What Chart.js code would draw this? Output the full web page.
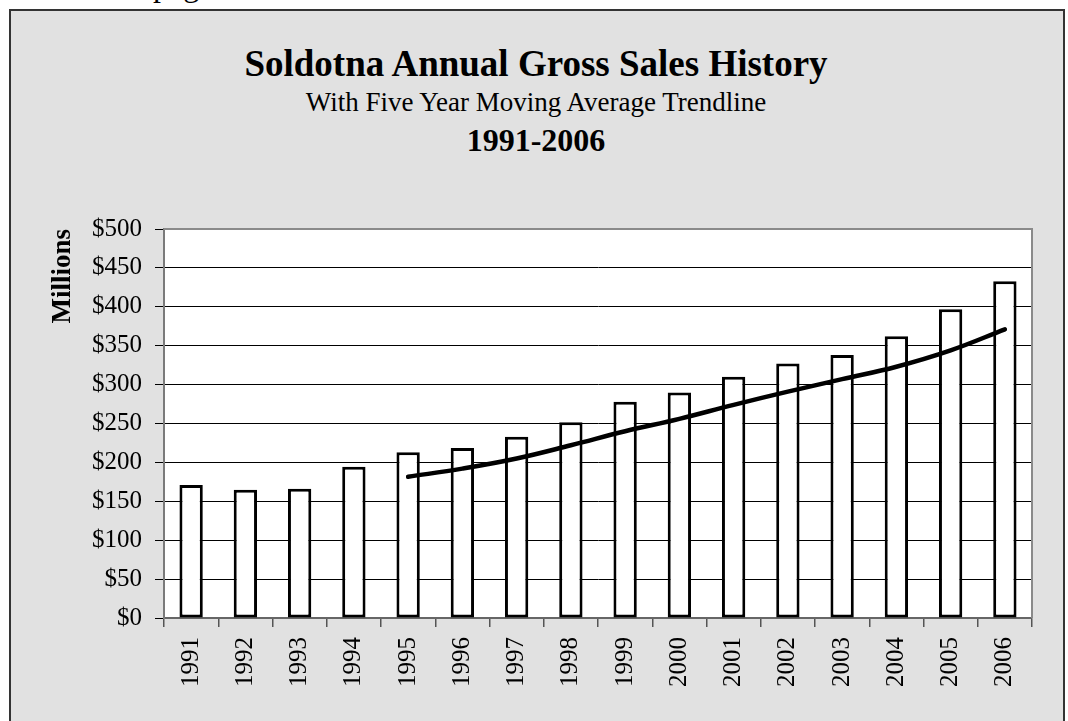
<!DOCTYPE html>
<html>
<head>
<meta charset="utf-8">
<script src="https://cdn.jsdelivr.net/npm/chart.js@4.4.0/dist/chart.umd.min.js"></script>
<style>
  body { margin: 0; width: 1068px; height: 721px; overflow: hidden; position: relative; background: #fff;
         font-family: "Liberation Serif", "Times New Roman", serif; color: #000; }
  #frame { position: absolute; left: 9px; top: 9px; width: 1052px; height: 740px; background: #e1e1e1; border: 2px solid #333; }
  #cut { position: absolute; left: 153px; top: -31px; font-size: 32px; line-height: 1; }
  .t { position: absolute; left: 2px; width: 1068px; text-align: center; line-height: 1; white-space: nowrap; }
  #title { top: 45px; font-size: 37px; font-weight: bold; }
  #sub { top: 89px; font-size: 27px; }
  #range { top: 124px; font-size: 32px; font-weight: bold; }
  #myChart { position: absolute; left: 0; top: 0; }
</style>
</head>
<body>
<div id="cut">page</div>
<div id="frame"></div>
<div class="t" id="title">Soldotna Annual Gross Sales History</div>
<div class="t" id="sub">With Five Year Moving Average Trendline</div>
<div class="t" id="range">1991-2006</div>
<canvas id="myChart" width="1068" height="721"></canvas>
<script>
// valores (millones de dolares)
const years = ['1991', '1992', '1993', '1994', '1995', '1996', '1997', '1998',
               '1999', '2000', '2001', '2002', '2003', '2004', '2005', '2006'];
const grossSales = [171, 165, 166, 194.5, 213, 218.5, 233, 251.5,
                    278, 290, 310, 327, 338, 362, 397, 433];
const movingAvg = [null, null, null, null, 181.5, 192, 205, 222,
                   240, 256, 274, 291, 307, 323, 344, 371];
const yMin = 0;
const yMax = 500;
const yStep = 50;

const serif = '"Liberation Serif", "Times New Roman", serif';

const plotFrame = {
    id: 'plotFrame',
    beforeDraw(chart) {
        const a = chart.chartArea;
        const ctx = chart.ctx;
        ctx.save();
        ctx.fillStyle = '#fff';
        ctx.fillRect(a.left, a.top, a.right - a.left, a.bottom - a.top);
        ctx.restore();
    },
    afterDraw(chart) {
        const a = chart.chartArea;
        const ctx = chart.ctx;
        ctx.save();
        ctx.strokeStyle = '#8a8a8a';
        ctx.lineWidth = 2;
        ctx.beginPath();
        ctx.moveTo(a.left, a.top);
        ctx.lineTo(a.right, a.top);
        ctx.lineTo(a.right, a.bottom);
        ctx.stroke();
        ctx.restore();
    }
};

const ctx = document.getElementById('myChart').getContext('2d');
const myChart = new Chart(ctx, {
    type: 'bar',
    data: {
        labels: years,
        datasets: [
            {
                type: 'line',
                label: 'Five Year Moving Average',
                data: movingAvg,
                borderColor: '#000',
                borderWidth: 4.5,
                borderCapStyle: 'round',
                pointRadius: 0,
                tension: 0.4,
                fill: false,
                order: 1
            },
            {
                label: 'Gross Sales',
                data: grossSales,
                backgroundColor: '#fff',
                borderColor: '#000',
                borderWidth: 3,
                borderSkipped: false,
                barPercentage: 0.43,
                categoryPercentage: 1,
                order: 2
            }
        ]
    },
    options: {
        responsive: false,
        animation: false,
        layout: { padding: { left: 40, right: 36, top: 229, bottom: 0 } },
        plugins: {
            legend: { display: false },
            tooltip: { enabled: false }
        },
        scales: {
            x: {
                offset: true,
                grid: { offset: true, drawOnChartArea: false, drawTicks: true, tickLength: 9, color: '#555', lineWidth: 1.5 },
                border: { color: '#666', width: 2 },
                ticks: { minRotation: 90, maxRotation: 90, autoSkip: false, padding: 10, color: '#000',
                         font: { family: serif, size: 25 } },
                afterFit(scale) { scale.height = 103; }
            },
            y: {
                min: yMin,
                max: yMax,
                ticks: { stepSize: yStep, padding: 13, color: '#000', font: { family: serif, size: 25 },
                         callback: v => '$' + v },
                grid: { color: '#000', lineWidth: 1, tickLength: 9, tickColor: '#000' },
                border: { color: '#7a7a7a', width: 2 },
                title: { display: true, text: 'Millions', align: 'end', color: '#000',
                         font: { family: serif, size: 27, weight: 'bold' }, padding: { top: 7, bottom: 0 } },
                afterFit(scale) { scale.width = 124; }
            }
        }
    },
    plugins: [plotFrame]
});
</script>
</body>
</html>
